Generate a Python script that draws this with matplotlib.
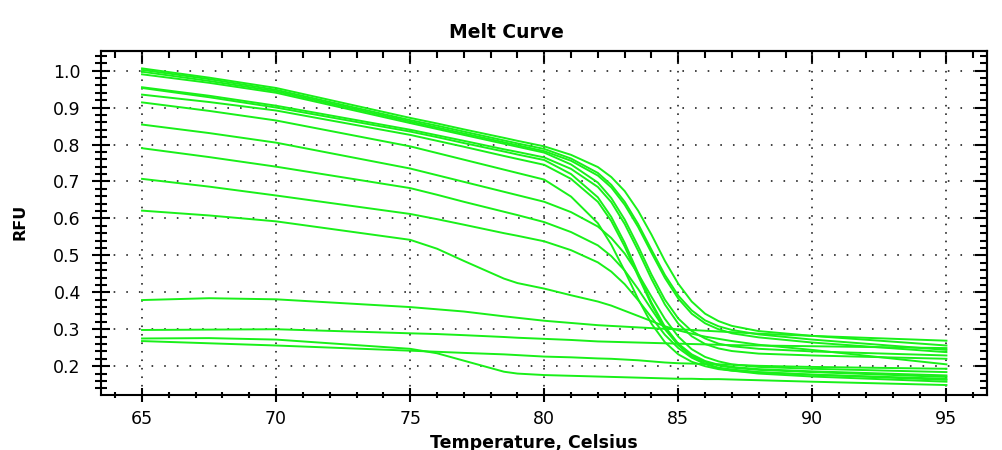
import matplotlib
matplotlib.use('Agg')
import matplotlib.pyplot as plt
from matplotlib.ticker import MultipleLocator, FormatStrFormatter, NullFormatter

# temperature points (Celsius) shared by all wells
temps = [65, 67.5, 70, 75, 76, 77, 78.5, 79, 80, 81, 82, 82.5, 83, 83.5, 84, 84.5,
         85, 85.5, 86, 86.5, 87, 88, 90, 95]

# RFU readings, one list per well
well_1 = [1.006, .981, .953, .872, .857, .841, .818, .810, .795, .772, .739, .712,
          .674, .621, .556, .485, .423, .375, .342, .322, .309, .295, .282, .256]
well_2 = [1.002, .977, .948, .866, .851, .835, .811, .803, .788, .762, .723, .691,
          .645, .585, .515, .447, .391, .351, .324, .308, .298, .286, .272, .244]
well_3 = [.997, .972, .944, .862, .846, .830, .806, .798, .782, .756, .716, .684,
          .637, .577, .507, .439, .383, .342, .316, .300, .289, .278, .264, .238]
well_4 = [.990, .967, .940, .858, .842, .826, .802, .794, .778, .746, .697, .655,
          .597, .525, .448, .380, .329, .295, .275, .261, .254, .247, .240, .229]
well_5 = [.955, .932, .905, .840, .825, .810, .787, .780, .765, .734, .685, .644,
          .585, .513, .436, .367, .315, .281, .260, .248, .241, .234, .229, .220]
well_6 = [.953, .928, .900, .835, .820, .804, .781, .773, .758, .720, .657, .604,
          .534, .452, .372, .307, .261, .232, .214, .204, .198, .192, .186, .175]
well_7 = [.935, .915, .892, .826, .810, .794, .769, .761, .745, .707, .645, .593,
          .524, .444, .367, .303, .258, .229, .212, .202, .196, .190, .184, .171]
well_8 = [.914, .891, .865, .795, .777, .759, .732, .723, .705, .659, .587, .529,
          .458, .382, .315, .265, .232, .212, .200, .192, .188, .183, .177, .166]
well_9 = [.854, .831, .805, .735, .717, .699, .672, .663, .645, .617, .578, .547,
          .505, .450, .388, .328, .280, .246, .225, .213, .205, .198, .193, .184]
well_10 = [.790, .766, .740, .682, .664, .645, .618, .609, .590, .563, .527, .498,
           .459, .409, .354, .300, .257, .226, .207, .194, .188, .180, .172, .158]
well_11 = [.707, .686, .662, .612, .598, .583, .560, .553, .538, .514, .481, .456,
           .422, .379, .332, .285, .249, .223, .206, .196, .191, .184, .177, .163]
well_12 = [.621, .608, .592, .542, .518, .485, .437, .425, .410, .392, .375, .364,
           .350, .336, .322, .308, .297, .288, .280, .274, .268, .258, .244, .205]
well_13 = [.379, .384, .381, .360, .354, .348, .335, .331, .323, .317, .311, .309,
           .307, .305, .303, .301, .300, .298, .296, .294, .292, .288, .282, .269]
well_14 = [.298, .299, .300, .289, .287, .284, .279, .277, .274, .271, .267, .266,
           .265, .264, .263, .262, .261, .260, .259, .258, .257, .256, .254, .249]
well_15 = [.275, .276, .272, .247, .235, .215, .185, .180, .176, .174, .172, .171,
           .170, .169, .168, .167, .166, .166, .165, .165, .164, .162, .158, .149]
well_16 = [.268, .262, .256, .242, .239, .236, .232, .230, .226, .224, .221, .220,
           .218, .216, .213, .210, .208, .207, .206, .205, .204, .201, .198, .193]

wells = [well_1, well_2, well_3, well_4, well_5, well_6, well_7, well_8,
         well_9, well_10, well_11, well_12, well_13, well_14, well_15, well_16]

fig = plt.figure(figsize=(10.03, 4.5), dpi=100)
ax = fig.add_axes([0.1007, 0.1222, 0.8830, 0.7644])

for w in wells:
    ax.plot(temps, w, color='#19f019', lw=1.4, solid_joinstyle='round')

ax.set_xlim(63.47, 96.5)
ax.set_ylim(0.122, 1.053)

ax.xaxis.set_major_locator(MultipleLocator(5))
ax.xaxis.set_minor_locator(MultipleLocator(1))
ax.yaxis.set_major_locator(MultipleLocator(0.1))
ax.yaxis.set_minor_locator(MultipleLocator(0.02))
ax.yaxis.set_major_formatter(FormatStrFormatter('%.1f'))

ax.xaxis.grid(True, which='major', color='#333333', lw=1.3, linestyle=(0, (0.9, 3.8)))
ax.yaxis.grid(True, which='major', color='#333333', lw=1.3, linestyle=(0, (0.9, 6.1)))

ax.tick_params(axis='x', which='major', direction='inout', length=10, width=1.5,
               labelsize=12.5, pad=6)
ax.tick_params(axis='x', which='minor', direction='inout', length=5, width=1.5)
ax.tick_params(axis='y', which='major', direction='inout', length=13, width=1.5,
               labelsize=12.5, pad=8)
ax.tick_params(axis='y', which='minor', direction='inout', length=8, width=1.5)

for s in ax.spines.values():
    s.set_linewidth(1.5)

# inward ticks on top and right
secx = ax.secondary_xaxis('top')
secx.xaxis.set_major_locator(MultipleLocator(5))
secx.xaxis.set_minor_locator(MultipleLocator(1))
secx.xaxis.set_major_formatter(NullFormatter())
secx.tick_params(which='major', direction='in', length=9, width=1.5)
secx.tick_params(which='minor', direction='in', length=5, width=1.5)
secx.spines['top'].set_linewidth(1.5)

secy = ax.secondary_yaxis('right')
secy.yaxis.set_major_locator(MultipleLocator(0.1))
secy.yaxis.set_minor_locator(MultipleLocator(0.02))
secy.yaxis.set_major_formatter(NullFormatter())
secy.tick_params(which='major', direction='in', length=9, width=1.5)
secy.tick_params(which='minor', direction='in', length=5, width=1.5)
secy.spines['right'].set_linewidth(1.5)

fig.text(506 / 1003, 1 - 38 / 450, 'Melt Curve', ha='center', va='baseline',
         fontsize=13.5, fontweight='bold')
fig.text(534 / 1003, 1 - 448 / 450, 'Temperature, Celsius', ha='center',
         va='baseline', fontsize=12.5, fontweight='bold')
fig.text(20.5 / 1003, 1 - 222 / 450, 'RFU', ha='center', va='center',
         rotation=90, fontsize=11.5, fontweight='bold')

fig.savefig('out.png', dpi=100)
